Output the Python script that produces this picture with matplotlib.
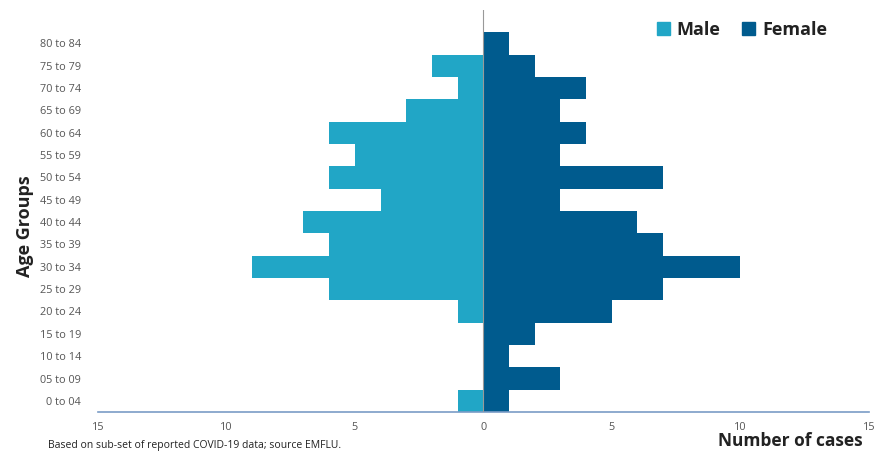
import matplotlib
matplotlib.use("Agg")
import matplotlib.pyplot as plt
from matplotlib.patches import Patch

age_groups = ["0 to 04", "05 to 09", "10 to 14", "15 to 19", "20 to 24", "25 to 29",
              "30 to 34", "35 to 39", "40 to 44", "45 to 49", "50 to 54", "55 to 59",
              "60 to 64", "65 to 69", "70 to 74", "75 to 79", "80 to 84"]
male = [1, 0, 0, 0, 1, 6, 9, 6, 7, 4, 6, 5, 6, 3, 1, 2, 0]
female = [1, 3, 1, 2, 5, 7, 10, 7, 6, 3, 7, 3, 4, 3, 4, 2, 1]
xticks = [-15, -10, -5, 0, 5, 10, 15]
xtick_labels = ["15", "10", "5", "0", "5", "10", "15"]

male_color = "#21A6C6"
female_color = "#005B8E"

plt.rcParams['font.family'] = ['Open Sans', 'DejaVu Sans']

fig = plt.figure(figsize=(8.74, 4.53), dpi=100)
ax = fig.add_axes([0.112, 0.0905, 0.882, 0.8875])

y = list(range(len(age_groups)))
ax.barh(y, [-m for m in male], height=1.0, color=male_color, label="Male")
ax.barh(y, female, height=1.0, color=female_color, label="Female")

ax.set_xlim(-15, 15)
ax.set_ylim(-0.5, 17.5)
ax.set_yticks(y)
ax.set_yticklabels(age_groups, fontsize=7.8, color="#555555")
ax.set_xticks(xticks)
ax.set_xticklabels(xtick_labels, fontsize=7.8, color="#555555")
ax.tick_params(axis='both', length=0)
ax.tick_params(axis='x', pad=7)
ax.tick_params(axis='y', pad=12)

for s in ["top", "right", "left"]:
    ax.spines[s].set_visible(False)
ax.spines["bottom"].set_color("#7A9CC6")
ax.spines["bottom"].set_linewidth(1.2)
ax.axvline(0, color="#999999", linewidth=0.8, zorder=3)

fig.text(0.018, 0.5, "Age Groups", rotation=90,
         fontsize=13, fontweight="bold", va="center", ha="left", color="#222222")
fig.text(0.987, 0.006, "Number of cases", fontsize=12.5, fontweight="bold",
         ha="right", va="bottom", color="#222222")
fig.text(0.055, 0.004, "Based on sub-set of reported COVID-19 data; source EMFLU.",
         fontsize=7.5, ha="left", va="bottom", color="#222222")

handles = [Patch(color=male_color, label="Male"), Patch(color=female_color, label="Female")]
leg = fig.legend(handles=handles, loc="upper right", bbox_to_anchor=(0.965, 0.99), ncol=2,
                 frameon=False, prop={'weight': 'bold', 'size': 13},
                 handlelength=0.7, handleheight=0.7, handletextpad=0.4, columnspacing=1.2)
for t in leg.get_texts():
    t.set_color("#222222")

fig.savefig("out.png", dpi=100)
